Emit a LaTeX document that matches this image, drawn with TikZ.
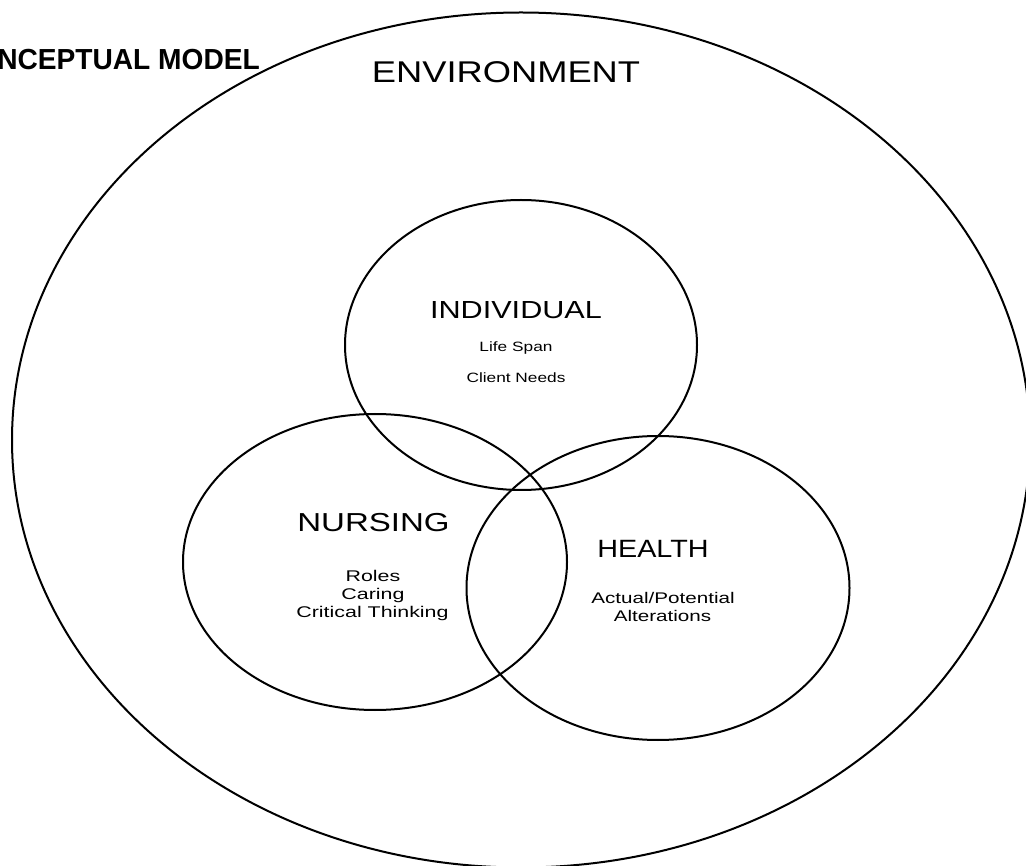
\documentclass[tikz,border=0pt]{standalone}
\usepackage{fontspec}
\setmainfont{Liberation Sans}
\usetikzlibrary{shapes.geometric}
\tikzset{
  ring/.style={ellipse, draw=black, line width=2pt, inner sep=0pt, fill=none},
  lbl/.style={inner sep=0pt, anchor=base, text=black},
}
\newcommand{\fs}[1]{\fontsize{#1}{#1}\selectfont}
\begin{document}
\begin{tikzpicture}[x=1pt, y=-1pt]
\useasboundingbox (0,0) rectangle (1026,866);
\clip (0,0) rectangle (1026,866);
\fill[white] (0,0) rectangle (1026,866);
% circles
\node[ring, minimum width=1018pt, minimum height=855pt] (env) at (521,440) {};
\node[ring, minimum width=352pt, minimum height=290pt] (ind) at (521,345) {};
\node[ring, minimum width=384pt, minimum height=296pt] (nur) at (375,562) {};
\node[ring, minimum width=383pt, minimum height=304pt] (hea) at (658,588) {};
% labels
\node[lbl, anchor=base east, xscale=0.97] (title) at (260,70) {\fs{29}\bfseries CONCEPTUAL MODEL};
\node[lbl, xscale=1.21] (envt) at (506,83) {\fs{30}ENVIRONMENT};
\node[lbl, xscale=1.24] (indt) at (516,319) {\fs{24.7}INDIVIDUAL};
\node[lbl, xscale=1.28] (ls) at (516,352) {\fs{13.5}Life Span};
\node[lbl, xscale=1.28] (cn) at (516,383) {\fs{13.5}Client Needs};
\node[lbl, xscale=1.27] (nurt) at (373.5,532) {\fs{26}NURSING};
\node[lbl, xscale=1.38] (ro) at (373,581) {\fs{15.5}Roles};
\node[lbl, xscale=1.38] (ca) at (373,599) {\fs{15.5}Caring};
\node[lbl, xscale=1.38] (ct) at (372.5,617) {\fs{15.5}Critical Thinking};
\node[lbl, xscale=1.15] (heat) at (653,557) {\fs{25}HEALTH};
\node[lbl, xscale=1.34] (ap) at (663,603) {\fs{15.4}Actual/Potential};
\node[lbl, xscale=1.34] (al) at (662.5,621) {\fs{15.4}Alterations};
\end{tikzpicture}
\end{document}
